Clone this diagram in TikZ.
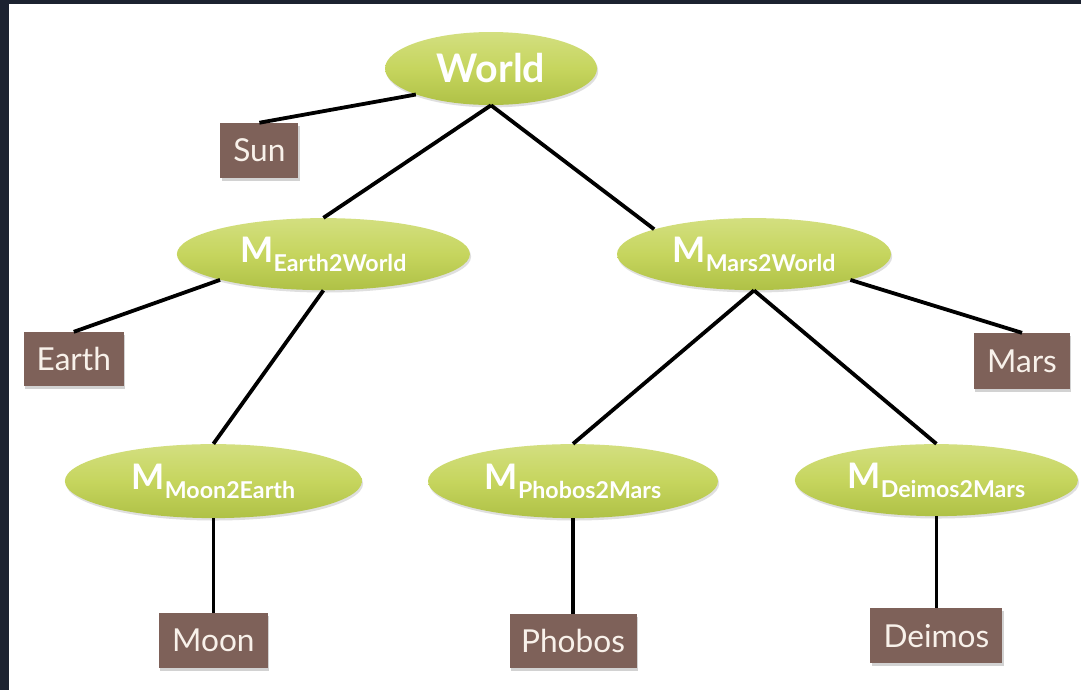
\documentclass[tikz,border=0pt]{standalone}
\usepackage{fontspec}
\setmainfont{Lato}
\usetikzlibrary{positioning,shapes.geometric,shadows}

\definecolor{frame}{HTML}{1C2230}
\definecolor{elltop}{HTML}{D3DF80}
\definecolor{ellmid}{HTML}{C6D55E}
\definecolor{ellbot}{HTML}{AFC146}
\definecolor{boxfill}{HTML}{7E6159}
\definecolor{boxtext}{HTML}{F8F1EA}

\newcommand{\xfm}[1]{{\fontsize{25}{28}\selectfont M}\raisebox{-2.4mm}{\fontsize{16.5}{18}\selectfont #1}}

\begin{document}
\begin{tikzpicture}[xform/.style={ellipse,inner sep=0pt,minimum height=18mm,top color=elltop,bottom color=ellbot,middle color=ellmid,text=white,font=\bfseries,text height=7.5mm,text depth=3.5mm,drop shadow={shadow xshift=0.3mm,shadow yshift=-0.6mm,opacity=0.25}},root/.style={xform,text height=,text depth=,font=\fontsize{28}{32}\selectfont\bfseries},leaf/.style={rectangle,inner sep=0pt,minimum height=13.75mm,fill=boxfill,text=boxtext,font=\fontsize{22.5}{26}\selectfont,drop shadow={shadow xshift=0.3mm,shadow yshift=-0.7mm,opacity=0.35}},link/.style={draw=black,line width=0.95mm}]

\useasboundingbox (0,0) rectangle (270.25mm,-172.5mm);
\fill[frame] (0,0) rectangle (270.25mm,-172.5mm);
\fill[white] (2.25mm,-0.9mm) rectangle (270.25mm,-172.5mm);

\node[root,minimum width=53mm,minimum height=18.25mm] (world) at (122.75mm,-17.125mm) {World};
\node[leaf,minimum width=19.5mm] (sun) [on grid,below left=20.5mm and 57.9mm of world] {Sun};

\node[xform,minimum width=73.25mm] (earth2world) [on grid,below left=46.4mm and 41.9mm of world]   {\xfm{Earth2World}};
\node[xform,minimum width=68.5mm]  (mars2world)  [on grid,below right=46.4mm and 65.75mm of world] {\xfm{Mars2World}};

\node[leaf,minimum width=25mm,minimum height=13.5mm] (earth) [on grid,below left=26.25mm and 62.4mm of earth2world] {Earth};
\node[leaf,minimum width=24mm,minimum height=14mm]   (mars)  [on grid,below right=26.75mm and 67mm of mars2world]  {Mars};

\node[xform,minimum width=74.25mm,minimum height=18.5mm] (moon2earth)  [on grid,below left=56.75mm and 27.5mm of earth2world]  {\xfm{Moon2Earth}};
\node[xform,minimum width=72.5mm,minimum height=18.5mm]  (phobos2mars) [on grid,below left=56.75mm and 45.25mm of mars2world]  {\xfm{Phobos2Mars}};
\node[xform,minimum width=70.75mm]                       (deimos2mars) [on grid,below right=56.5mm and 45.6mm of mars2world]  {\xfm{Deimos2Mars}};

\node[leaf,minimum width=27.25mm]                    (moon)   [on grid,below=39.9mm of moon2earth]  {Moon};
\node[leaf,minimum width=31.75mm,minimum height=13.5mm] (phobos) [on grid,below=40mm of phobos2mars] {Phobos};
\node[leaf,minimum width=33mm]                       (deimos) [on grid,below=38.9mm of deimos2mars] {Deimos};

\draw[link] (world.south west) -- (sun.north);
\draw[link] (world.south) -- (earth2world.north);
\draw[link] (world.south) -- (mars2world.166);
\draw[link] (earth2world.194) -- (earth.north);
\draw[link] (earth2world.south) -- (moon2earth.north);
\draw[link] (mars2world.345) -- (mars.north);
\draw[link] (mars2world.south) -- (phobos2mars.north);
\draw[link] (mars2world.south) -- (deimos2mars.north);
\draw[link] (moon2earth.south) -- (moon.north);
\draw[link] (phobos2mars.south) -- (phobos.north);
\draw[link] (deimos2mars.south) -- (deimos.north);

\end{tikzpicture}
\end{document}
